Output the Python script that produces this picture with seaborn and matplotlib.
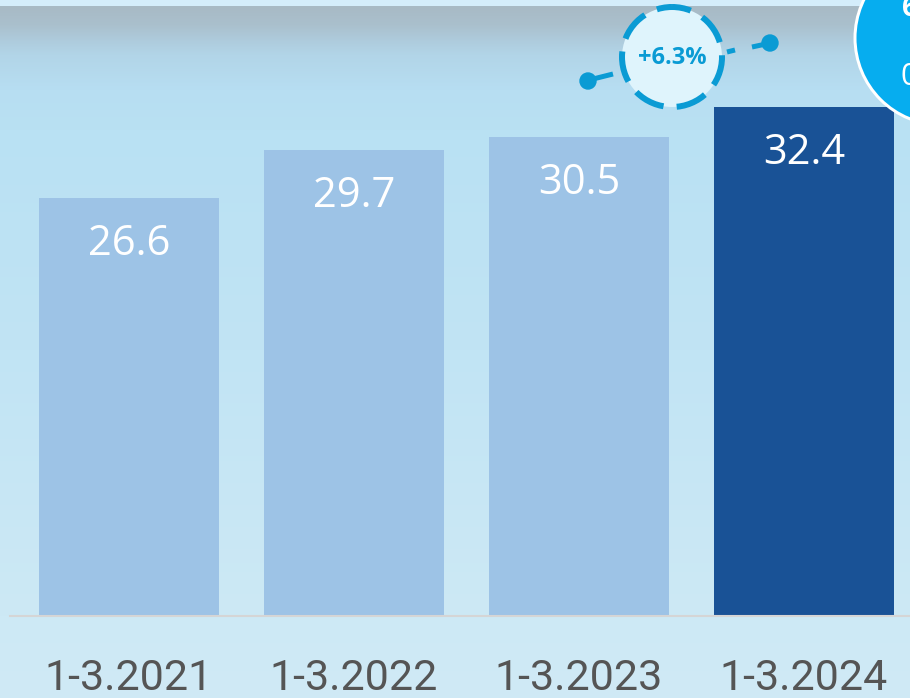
import numpy as np
import pandas as pd
import matplotlib
matplotlib.use("Agg")
import matplotlib.pyplot as plt
import seaborn as sns
from matplotlib.patches import Circle

# ---- data ----
periods = ["1-3.2021", "1-3.2022", "1-3.2023", "1-3.2024"]
values = [26.6, 29.7, 30.5, 32.4]
value_labels = ["26.6", "29.7", "30.5", "32.4"]
bar_colors = ["#9dc3e6", "#9dc3e6", "#9dc3e6", "#195296"]
growth_label = "+6.3%"

sns.set_theme(style="white")
plt.rcParams["font.family"] = ["Open Sans", "DejaVu Sans"]

W, H, DPI = 910, 698, 100
fig = plt.figure(figsize=(W / DPI, H / DPI), dpi=DPI)

# ---- background gradient ----
bg = fig.add_axes([0, 0, 1, 1], zorder=-10)
stops_y = [0, 5.5, 6.5, 25, 40, 55, 90, 130, 350, 616, 698]
stops_c = [(212, 237, 251), (212, 237, 251), (168, 186, 197), (170, 192, 205),
           (174, 203, 220), (178, 213, 232), (183, 222, 242), (185, 225, 243),
           (193, 228, 244), (205, 233, 245), (208, 234, 245)]
ys = np.arange(H) + 0.5
grad = np.zeros((H, 1, 3))
for k in range(3):
    grad[:, 0, k] = np.interp(ys, stops_y, [c[k] for c in stops_c]) / 255.0
bg.imshow(grad, aspect="auto", extent=(0, W, H, 0), interpolation="nearest")
bg.set_xlim(0, W)
bg.set_ylim(H, 0)
bg.axis("off")

# ---- main bar axes ----
px_per_unit = 15.7
ax = fig.add_axes([10 / W, (H - 616) / H, 900 / W, 616 / H], zorder=1)
ax.set_facecolor("none")
df = pd.DataFrame({"period": periods, "value": values})
sns.barplot(data=df, x="period", y="value", hue="period", palette=bar_colors,
            width=0.8, legend=False, ax=ax, saturation=1, edgecolor="none")
ax.set_xlim(-0.529, 3.471)
ax.set_ylim(0, 616 / px_per_unit)
ax.set_xlabel("")
ax.set_ylabel("")
ax.set_yticks([])
for s in ["top", "left", "right"]:
    ax.spines[s].set_visible(False)
ax.spines["bottom"].set_color("#d5d5d5")
ax.spines["bottom"].set_linewidth(1.5)
ax.tick_params(axis="x", length=0, pad=30, labelsize=31, labelcolor="#555555")
for lab in ax.get_xticklabels():
    lab.set_fontfamily(["Roboto", "DejaVu Sans"])
    lab.set_fontweight("normal")

for i, (v, t) in enumerate(zip(values, value_labels)):
    ax.annotate(t, xy=(i, v), xytext=(0, -25 * 72 / DPI), textcoords="offset points",
                ha="center", va="top", color="white", fontsize=30)

# ---- decorations (figure pixel coords) ----
ov = fig.add_axes([0, 0, 1, 1], zorder=5)
ov.set_facecolor("none")
ov.set_xlim(0, W)
ov.set_ylim(H, 0)
ov.axis("off")

pt = 72 / DPI
ring_c = "#0a9bd4"
cx, cy = 672, 57
ov.add_patch(Circle((cx, cy), 50, facecolor="#dff4fc", edgecolor="none"))
ov.add_patch(Circle((cx, cy), 50, facecolor="none", edgecolor=ring_c,
                    linewidth=6 * pt, linestyle=(2, (5.2, 2.2))))
ov.text(cx, cy + 1, growth_label, ha="center", va="center", color=ring_c,
        fontsize=17, fontweight="bold")
# connectors
ov.plot([589, 613], [80, 74], color=ring_c, lw=5 * pt, solid_capstyle="butt")
ov.add_patch(Circle((588, 81), 8, color=ring_c))
ov.plot([727, 735], [52, 50], color=ring_c, lw=5 * pt, solid_capstyle="butt")
ov.plot([752, 766], [47, 44], color=ring_c, lw=5 * pt, solid_capstyle="butt")
ov.add_patch(Circle((770, 43), 8, color=ring_c))

# big circle on right edge (partly outside the picture, as in the original)
ov.add_patch(Circle((942, 38), 87, facecolor="#06adef", edgecolor="white",
                    linewidth=3 * pt))
ov.text(902, 8, "6", ha="left", va="center", color="white", fontsize=20,
        fontweight="bold", clip_on=True)
ov.text(900, 77, "0", ha="left", va="center", color="white", fontsize=22,
        clip_on=True)

fig.savefig("out.png", dpi=DPI)
